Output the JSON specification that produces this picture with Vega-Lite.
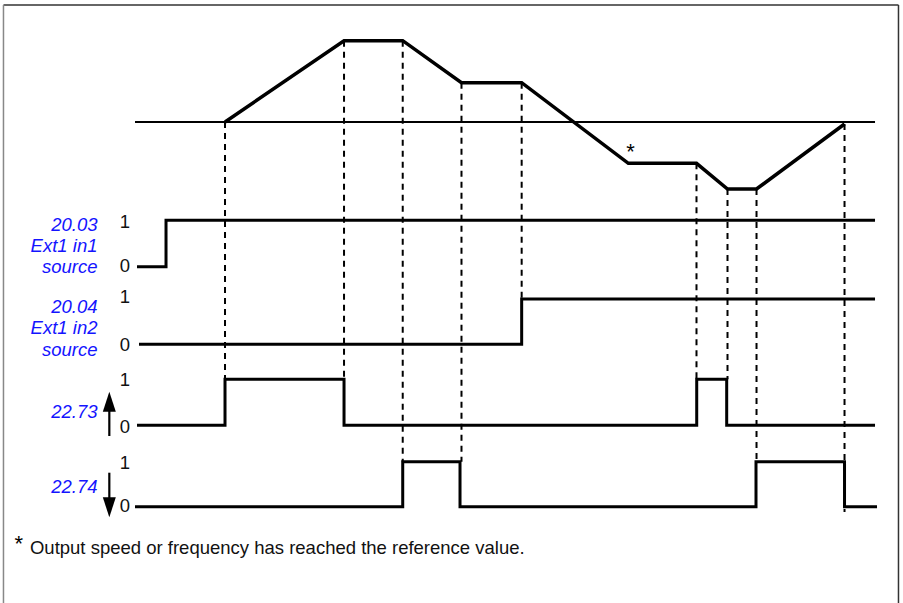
{
  "$schema": "https://vega.github.io/schema/vega-lite/v6.json",
  "width": 903,
  "height": 603,
  "autosize": {"type": "none"},
  "padding": 0,
  "background": "white",
  "config": {"view": {"stroke": null}},
  "datasets": {
    "frame": [
      {"part": "top", "t": -17.53, "t2": 103.39, "y": 119.6, "y2": 119.6},
      {"part": "right", "t": 103.39, "t2": 103.39, "y": 119.6, "y2": -1},
      {"part": "left", "t": -17.53, "t2": -17.53, "y": 119.6, "y2": -1}
    ],
    "reference": [{"t": 0.24, "t2": 100.22, "y": 96.2}],
    "dashes": [
      {"t": 12.40, "y": 96.2, "y2": 44.74},
      {"t": 28.48, "y": 112.46, "y2": 44.74},
      {"t": 36.41, "y": 112.46, "y2": 28.26},
      {"t": 44.35, "y": 104.06, "y2": 28.26},
      {"t": 52.48, "y": 104.06, "y2": 60.8},
      {"t": 76.10, "y": 87.94, "y2": 44.74},
      {"t": 80.29, "y": 82.8, "y2": 44.74},
      {"t": 84.21, "y": 82.8, "y2": 28.26},
      {"t": 96.10, "y": 95.8, "y2": 18.2}
    ],
    "speed": [
      {"t": 12.40, "y": 96.2},
      {"t": 28.48, "y": 112.46},
      {"t": 36.41, "y": 112.46},
      {"t": 44.35, "y": 104.06},
      {"t": 52.48, "y": 104.06},
      {"t": 66.89, "y": 87.94},
      {"t": 76.10, "y": 87.94},
      {"t": 80.29, "y": 82.8},
      {"t": 84.21, "y": 82.8},
      {"t": 96.10, "y": 95.8}
    ],
    "signals": [
      {"sig": "20.03", "t": 0.51, "y": 67.26},
      {"sig": "20.03", "t": 4.43, "y": 76.54},
      {"sig": "20.03", "t": 100.22, "y": 76.54},
      {"sig": "20.04", "t": 0.78, "y": 51.74},
      {"sig": "20.04", "t": 52.48, "y": 60.8},
      {"sig": "20.04", "t": 100.22, "y": 60.8},
      {"sig": "22.73", "t": 0.51, "y": 35.54},
      {"sig": "22.73", "t": 12.40, "y": 44.74},
      {"sig": "22.73", "t": 28.48, "y": 35.54},
      {"sig": "22.73", "t": 76.13, "y": 44.74},
      {"sig": "22.73", "t": 80.18, "y": 35.54},
      {"sig": "22.73", "t": 100.22, "y": 35.54},
      {"sig": "22.74", "t": 0.24, "y": 19.26},
      {"sig": "22.74", "t": 36.41, "y": 28.26},
      {"sig": "22.74", "t": 44.15, "y": 19.26},
      {"sig": "22.74", "t": 84.14, "y": 28.26},
      {"sig": "22.74", "t": 96.10, "y": 19.26},
      {"sig": "22.74", "t": 100.49, "y": 19.26}
    ],
    "shafts": [
      {"t": -3.23, "y": 33.4, "y2": 39.5},
      {"t": -3.23, "y": 26.06, "y2": 20.0}
    ],
    "heads": [
      {"dir": "up", "t": -3.23, "y": 40.26},
      {"dir": "down", "t": -3.23, "y": 19.14}
    ],
    "digits": [
      {"label": "1", "t": -1.13, "y": 74.94},
      {"label": "0", "t": -1.13, "y": 66.26},
      {"label": "1", "t": -1.13, "y": 60.06},
      {"label": "0", "t": -1.13, "y": 50.4},
      {"label": "1", "t": -1.13, "y": 43.4},
      {"label": "0", "t": -1.13, "y": 34.06},
      {"label": "1", "t": -1.13, "y": 26.74},
      {"label": "0", "t": -1.13, "y": 18.26}
    ],
    "names": [
      {"label": "20.03", "t": -4.83, "y": 74.46},
      {"label": "Ext1 in1", "t": -4.83, "y": 70.26},
      {"label": "source", "t": -4.83, "y": 66.06},
      {"label": "20.04", "t": -4.83, "y": 58.06},
      {"label": "Ext1 in2", "t": -4.83, "y": 53.76},
      {"label": "source", "t": -4.83, "y": 49.46},
      {"label": "22.73", "t": -4.83, "y": 36.94},
      {"label": "22.74", "t": -4.83, "y": 22.06}
    ],
    "stars": [
      {"label": "*", "t": 66.6, "y": 88.8},
      {"label": "*", "t": -16.05, "y": 10.45}
    ],
    "note": [
      {"label": "Output speed or frequency has reached the reference value.", "t": -13.95, "y": 9.8}
    ]
  },
  "encoding": {
    "x": {"field": "t", "type": "quantitative", "scale": {"domain": [-18, 104], "nice": false, "zero": false}, "axis": null},
    "y": {"field": "y", "type": "quantitative", "scale": {"domain": [0, 120.6], "nice": false, "zero": false}, "axis": null}
  },
  "layer": [
    {
      "data": {"name": "frame"},
      "mark": {"type": "rule", "strokeWidth": 1.5},
      "encoding": {
        "x2": {"field": "t2"},
        "y2": {"field": "y2"},
        "color": {"field": "part", "type": "nominal", "scale": {"domain": ["top", "right", "left"], "range": ["#333333", "#333333", "#888888"]}, "legend": null}
      }
    },
    {
      "data": {"name": "reference"},
      "mark": {"type": "rule", "strokeWidth": 1.8, "color": "black"},
      "encoding": {"x2": {"field": "t2"}}
    },
    {
      "data": {"name": "dashes"},
      "mark": {"type": "rule", "strokeWidth": 2, "strokeDash": [6, 5], "color": "black"},
      "encoding": {"y2": {"field": "y2"}}
    },
    {
      "data": {"name": "speed"},
      "mark": {"type": "line", "strokeWidth": 3.5, "color": "black"},
      "encoding": {}
    },
    {
      "data": {"name": "signals"},
      "mark": {"type": "line", "interpolate": "step-after", "strokeWidth": 3, "color": "black"},
      "encoding": {"detail": {"field": "sig", "type": "nominal"}}
    },
    {
      "data": {"name": "shafts"},
      "mark": {"type": "rule", "strokeWidth": 2.2, "color": "black"},
      "encoding": {"y2": {"field": "y2"}}
    },
    {
      "data": {"name": "heads"},
      "mark": {"type": "point", "filled": true, "size": 400, "color": "black", "opacity": 1},
      "encoding": {
        "shape": {"field": "dir", "type": "nominal", "scale": {"domain": ["up", "down"], "range": ["M0,-1L-0.65,1L0.65,1Z", "M0,1L-0.65,-1L0.65,-1Z"]}, "legend": null}
      }
    },
    {
      "data": {"name": "digits"},
      "mark": {"type": "text", "font": "Liberation Sans", "fontSize": 18.5, "align": "center", "baseline": "alphabetic", "color": "#111111"},
      "encoding": {"text": {"field": "label"}}
    },
    {
      "data": {"name": "names"},
      "mark": {"type": "text", "font": "Liberation Sans", "fontSize": 18.5, "fontStyle": "italic", "align": "right", "baseline": "alphabetic", "color": "#1414ff"},
      "encoding": {"text": {"field": "label"}}
    },
    {
      "data": {"name": "stars"},
      "mark": {"type": "text", "font": "Liberation Sans", "fontSize": 22, "align": "left", "baseline": "alphabetic", "color": "black"},
      "encoding": {"text": {"field": "label"}}
    },
    {
      "data": {"name": "note"},
      "mark": {"type": "text", "font": "Liberation Sans", "fontSize": 18.5, "align": "left", "baseline": "alphabetic", "color": "#111111"},
      "encoding": {"text": {"field": "label"}}
    }
  ]
}
